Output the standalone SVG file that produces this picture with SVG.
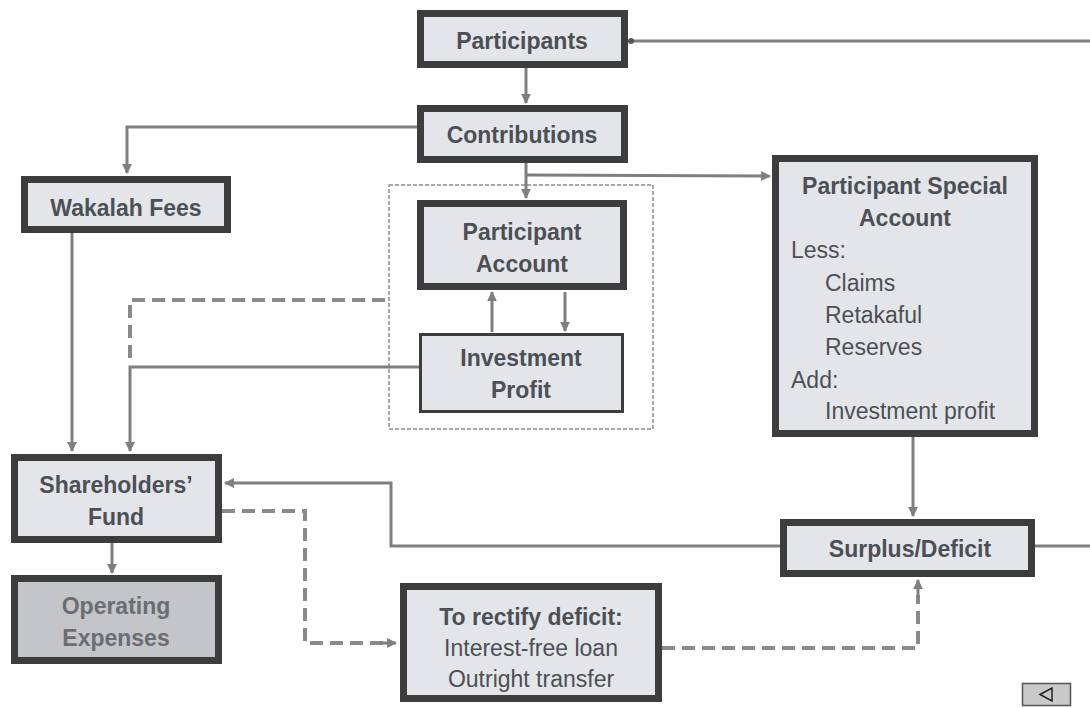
<svg xmlns="http://www.w3.org/2000/svg" width="1090" height="708" viewBox="0 0 1090 708">
  <defs>
    <marker id="arrow" viewBox="0 0 10 10" refX="9" refY="5" markerWidth="3.3" markerHeight="3.3" orient="auto" markerUnits="strokeWidth">
      <path d="M0,0 L10,5 L0,10 z" fill="#7f7f7f"/>
    </marker>
    <marker id="dot" viewBox="0 0 10 10" refX="5" refY="5" markerWidth="2.5" markerHeight="2.5" orient="auto" markerUnits="strokeWidth">
      <circle cx="5" cy="5" r="4" fill="#555"/>
    </marker>
    <style>
      .box { fill: #e3e5e8; stroke: #3d3d3d; stroke-width: 7; }
      .thin { stroke-width: 3; }
      .dark { fill: #c3c5c8; }
      .t { font-family: "Liberation Sans", Arial, sans-serif; font-size: 23px; fill: #4b5057; }
      .b { font-weight: bold; }
      .c { text-anchor: middle; }
      .muted { fill: #6a6e73; }
      .ln { fill: none; stroke: #7f7f7f; stroke-width: 3; }
      .dash { fill: none; stroke: #8a8a8a; stroke-width: 4; stroke-dasharray: 13 7; }
      .frame { fill: none; stroke: #8c8c8c; stroke-width: 1.5; stroke-dasharray: 4 2; }
    </style>
  </defs>

  <rect width="1090" height="708" fill="#ffffff"/>

  <!-- dotted grouping around the participant account and its investment -->
  <rect class="frame" x="389" y="185" width="264" height="244"/>

  <g id="connectors">
    <!-- Participants link to the right edge -->
    <path class="ln" d="M1090,41 L631,41" marker-end="url(#dot)"/>
    <!-- Participants to Contributions -->
    <path class="ln" d="M526,68 L526,103" marker-end="url(#arrow)"/>
    <!-- Contributions to Wakalah Fees -->
    <path class="ln" d="M417,127 L127,127 L127,173" marker-end="url(#arrow)"/>
    <!-- Contributions to Participant Account -->
    <path class="ln" d="M526,163 L526,198" marker-end="url(#arrow)"/>
    <!-- Contributions to Participant Special Account -->
    <path class="ln" d="M526,175 L770,176" marker-end="url(#arrow)"/>
    <!-- Investment Profit up to Participant Account -->
    <path class="ln" d="M492,332 L492,292" marker-end="url(#arrow)"/>
    <!-- Participant Account down to Investment Profit -->
    <path class="ln" d="M565,292 L565,331" stroke-width="4" marker-end="url(#arrow)"/>
    <!-- Wakalah Fees to Shareholders' Fund -->
    <path class="ln" d="M72,233 L72,451" marker-end="url(#arrow)"/>
    <!-- dashed link from the account group -->
    <path class="dash" d="M385,300 L130,300 L130,362"/>
    <!-- Investment Profit to Shareholders' Fund -->
    <path class="ln" d="M419,367 L130,367 L130,451" marker-end="url(#arrow)"/>
    <!-- Participant Special Account to Surplus/Deficit -->
    <path class="ln" d="M913,437 L913,516" marker-end="url(#arrow)"/>
    <!-- Surplus/Deficit back to Shareholders' Fund -->
    <path class="ln" d="M780,546 L391,546 L391,483 L225,483" marker-end="url(#arrow)"/>
    <!-- Surplus/Deficit link to the right edge -->
    <path class="ln" d="M1035,546 L1090,546"/>
    <!-- Shareholders' Fund to Operating Expenses -->
    <path class="ln" d="M112,543 L112,573" marker-end="url(#arrow)"/>
    <!-- Shareholders' Fund dashed to deficit remedy -->
    <path class="dash" d="M222,511 L305,511 L305,643 L385,643"/>
    <path class="ln" d="M380,643 L396,643" marker-end="url(#arrow)"/>
    <!-- deficit remedy dashed back up to Surplus/Deficit -->
    <path class="dash" d="M662,648 L918,648 L918,595"/>
    <path class="ln" d="M918,598 L918,580" marker-end="url(#arrow)"/>
  </g>

  <g id="participants">
    <rect class="box" x="420.5" y="13.5" width="204" height="51"/>
    <text class="t b c" x="522" y="49">Participants</text>
  </g>

  <g id="contributions">
    <rect class="box" x="420.5" y="108.5" width="204" height="51"/>
    <text class="t b c" x="522" y="143">Contributions</text>
  </g>

  <g id="wakalah-fees">
    <rect class="box" x="24.5" y="179.5" width="203" height="50"/>
    <text class="t b c" x="126" y="216">Wakalah Fees</text>
  </g>

  <g id="participant-account">
    <rect class="box" x="420.5" y="203.5" width="203" height="83"/>
    <text class="t b c" x="522" y="240">Participant</text>
    <text class="t b c" x="522" y="272">Account</text>
  </g>

  <g id="investment-profit">
    <rect class="box thin" x="420.5" y="334.5" width="202" height="77"/>
    <text class="t b c" x="521" y="366">Investment</text>
    <text class="t b c" x="521" y="398">Profit</text>
  </g>

  <g id="participant-special-account">
    <rect class="box" x="775.5" y="158.5" width="259" height="275"/>
    <text class="t b c" x="905" y="194">Participant Special</text>
    <text class="t b c" x="905" y="226">Account</text>
    <text class="t" x="791" y="258">Less:</text>
    <text class="t" x="825" y="291">Claims</text>
    <text class="t" x="825" y="323">Retakaful</text>
    <text class="t" x="825" y="355">Reserves</text>
    <text class="t" x="791" y="388">Add:</text>
    <text class="t" x="825" y="419">Investment profit</text>
  </g>

  <g id="shareholders-fund">
    <rect class="box" x="14.5" y="457.5" width="204" height="82"/>
    <text class="t b c" x="116" y="493">Shareholders’</text>
    <text class="t b c" x="116" y="525">Fund</text>
  </g>

  <g id="operating-expenses">
    <rect class="box dark" x="14.5" y="578.5" width="204" height="82"/>
    <text class="t b c muted" x="116" y="614">Operating</text>
    <text class="t b c muted" x="116" y="646">Expenses</text>
  </g>

  <g id="surplus-deficit">
    <rect class="box" x="783.5" y="522.5" width="248" height="51"/>
    <text class="t b c" x="910" y="557">Surplus/Deficit</text>
  </g>

  <g id="rectify-deficit">
    <rect class="box" x="403.5" y="586.5" width="255" height="112"/>
    <text class="t b c" x="531" y="625">To rectify deficit:</text>
    <text class="t c" x="531" y="656">Interest-free loan</text>
    <text class="t c" x="531" y="687">Outright transfer</text>
  </g>

  <g id="back-button">
    <rect x="1022.5" y="683.5" width="48" height="22" fill="#c9c9c9" stroke="#555" stroke-width="1.5"/>
    <polygon points="1040,694.5 1052,688 1052,701" fill="none" stroke="#222" stroke-width="1.5"/>
  </g>
</svg>
